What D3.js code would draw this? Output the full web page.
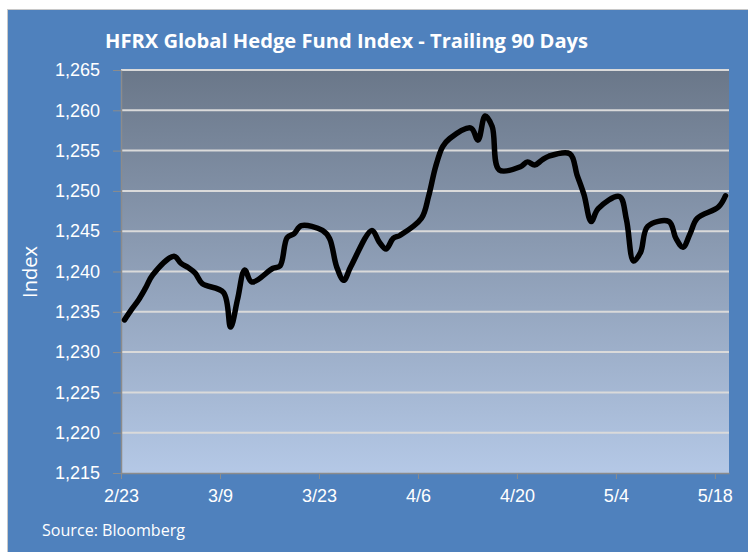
<!DOCTYPE html>
<html>
<head>
<meta charset="utf-8">
<script src="https://cdn.jsdelivr.net/npm/d3@7"></script>
<style>
  html, body { margin: 0; padding: 0; background: #fff; }
  svg { display: block; font-family: 'Open Sans', sans-serif; }
  .axis text { fill: #fff; font-size: 18px; }
  .axis path, .axis line { stroke: #8c8c8c; }
</style>
</head>
<body>
<svg id="chart" width="748" height="552"></svg>
<script>
// HFRX Global, daily closes (2015)
var dates = [
  '2/23','2/24','2/25','2/26','2/27',
  '3/2','3/3','3/4','3/5','3/6',
  '3/9','3/10','3/11','3/12','3/13',
  '3/16','3/17','3/18','3/19','3/20',
  '3/23','3/24','3/25','3/26','3/27',
  '3/30','3/31','4/1','4/2','4/3',
  '4/6','4/7','4/8','4/9','4/10',
  '4/13','4/14','4/15','4/16','4/17',
  '4/20','4/21','4/22','4/23','4/24',
  '4/27','4/28','4/29','4/30','5/1',
  '5/4','5/5','5/6','5/7','5/8',
  '5/11','5/12','5/13','5/14','5/15',
  '5/18','5/19'
];
var index = [
  1234.0, 1235.3, 1236.5, 1238.0, 1239.6,
  1241.9, 1241.0, 1240.5, 1239.8, 1238.5,
  1237.4, 1233.1, 1236.6, 1240.2, 1238.7,
  1240.4, 1240.7, 1244.2, 1244.7, 1245.7,
  1245.1, 1244.1, 1240.6, 1238.9, 1240.6,
  1245.1, 1243.7, 1242.8, 1244.1, 1244.5,
  1246.6, 1249.3, 1253.0, 1255.5, 1256.5,
  1257.8, 1256.3, 1259.3, 1258.0, 1252.6,
  1253.0, 1253.6, 1253.2, 1253.8, 1254.3,
  1254.6, 1252.0, 1249.5, 1246.2, 1247.8,
  1249.3, 1246.4, 1241.3, 1242.4, 1245.6,
  1246.2, 1244.1, 1243.0, 1244.7, 1246.6,
  1248.0, 1249.4
];
var xTicks = ['2/23', '3/9', '3/23', '4/6', '4/20', '5/4', '5/18'];
var yTicks = [1215, 1220, 1225, 1230, 1235, 1240, 1245, 1250, 1255, 1260, 1265];

(function() {
  var year = 2015;
  var parseDay = function(s) {
    var p = s.split('/');
    return new Date(year, +p[0] - 1, +p[1]);
  };
  var halfDay = 12 * 3600 * 1000;

  var svg = d3.select('#chart');
  var pLeft = 121, pRight = 729, pTop = 70, pBottom = 473;

  // outer panel
  svg.append('rect')
    .attr('x', 7.5).attr('y', 9.5)
    .attr('width', 748).attr('height', 552)
    .attr('fill', '#4f81bd')
    .attr('stroke', '#c8c8c8');

  var grad = svg.append('defs').append('linearGradient')
    .attr('id', 'plotFill')
    .attr('x1', 0).attr('y1', 0).attr('x2', 0).attr('y2', 1);
  grad.append('stop').attr('offset', '0%').attr('stop-color', '#6a7789');
  grad.append('stop').attr('offset', '100%').attr('stop-color', '#b4c8e6');

  var x = d3.scaleTime()
    .domain([parseDay('2/23'), parseDay('5/20')])
    .range([pLeft, pRight]);
  var y = d3.scaleLinear()
    .domain([1215, 1265])
    .range([pBottom, pTop]);

  svg.append('rect')
    .attr('x', pLeft).attr('y', pTop)
    .attr('width', pRight - pLeft).attr('height', pBottom - pTop)
    .attr('fill', 'url(#plotFill)');

  // gridlines
  svg.append('g')
    .selectAll('line')
    .data(yTicks.slice(1))
    .enter().append('line')
    .attr('x1', pLeft).attr('x2', pRight)
    .attr('y1', function(d) { return y(d); })
    .attr('y2', function(d) { return y(d); })
    .attr('stroke', '#dadada')
    .attr('stroke-width', 2);

  // y axis
  var yAxis = svg.append('g')
    .attr('class', 'axis')
    .attr('transform', 'translate(' + pLeft + ',0)')
    .call(d3.axisLeft(y).tickValues(yTicks).tickFormat(d3.format(',')).tickSize(8).tickSizeOuter(0).tickPadding(13));
  yAxis.select('.domain').attr('stroke-width', 1.5);

  // x axis
  var xAxis = svg.append('g')
    .attr('class', 'axis')
    .attr('transform', 'translate(0,' + pBottom + ')')
    .call(d3.axisBottom(x).tickValues(xTicks.map(parseDay))
      .tickFormat(d3.timeFormat('%-m/%-d')).tickSize(6).tickSizeOuter(0).tickPadding(10));
  xAxis.select('.domain').attr('stroke-width', 1.5);

  // line
  var line = d3.line()
    .x(function(d) { return x(new Date(d.date.getTime() + halfDay)); })
    .y(function(d) { return y(d.value); })
    .curve(d3.curveCatmullRom.alpha(0.5));

  var series = dates.map(function(d, i) {
    return { date: parseDay(d), value: index[i] };
  });

  svg.append('path')
    .datum(series)
    .attr('d', line)
    .attr('fill', 'none')
    .attr('stroke', '#000')
    .attr('stroke-width', 5.5)
    .attr('stroke-linejoin', 'round')
    .attr('stroke-linecap', 'round');

  // texts
  svg.append('text')
    .attr('x', 105).attr('y', 48)
    .attr('fill', '#fff')
    .attr('font-size', 19)
    .attr('font-weight', 'bold')
    .attr('textLength', 483)
    .attr('lengthAdjust', 'spacingAndGlyphs')
    .text('HFRX Global Hedge Fund Index - Trailing 90 Days');

  svg.append('text')
    .attr('transform', 'translate(37,272) rotate(-90)')
    .attr('text-anchor', 'middle')
    .attr('fill', '#fff')
    .attr('font-size', 20)
    .text('Index');

  svg.append('text')
    .attr('x', 42).attr('y', 536)
    .attr('fill', '#fff')
    .attr('font-size', 16)
    .attr('textLength', 143)
    .attr('lengthAdjust', 'spacingAndGlyphs')
    .text('Source: Bloomberg');
})();
</script>
</body>
</html>
